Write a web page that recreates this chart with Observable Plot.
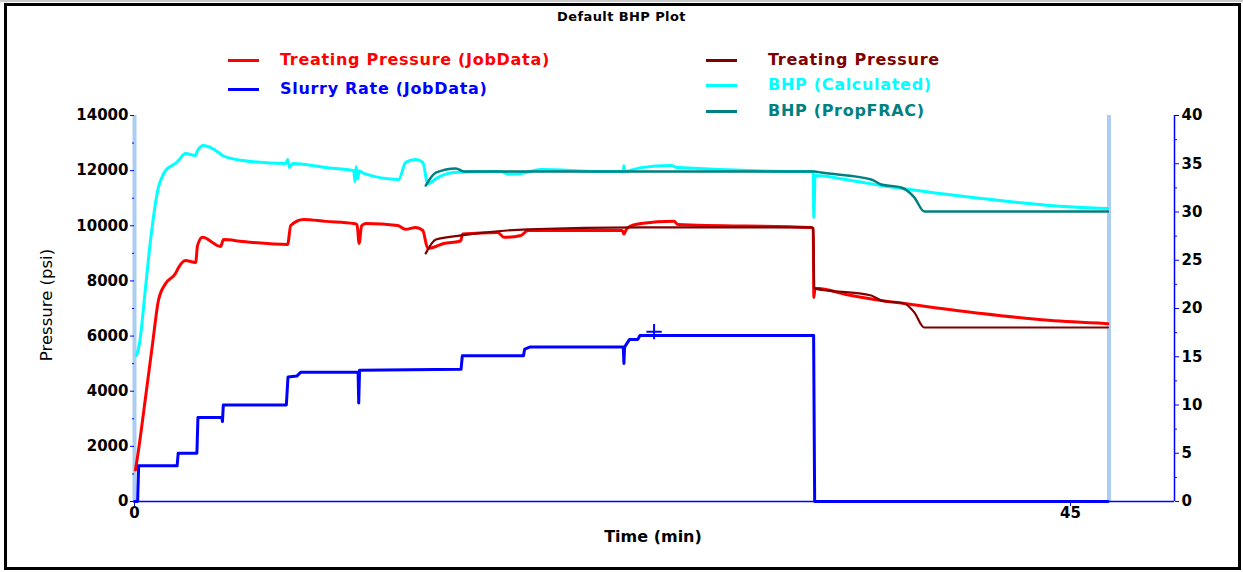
<!DOCTYPE html>
<html><head><meta charset="utf-8">
<script src="https://cdn.jsdelivr.net/npm/d3@7"></script>
<script src="https://cdn.jsdelivr.net/npm/@observablehq/plot@0.6"></script>
<style>
body{margin:0;background:#fff;}
#wrap{position:relative;width:1243px;height:572px;overflow:hidden;background:#fff;font-family:"DejaVu Sans",sans-serif;}
#frame{position:absolute;left:4px;top:3px;width:1237px;height:567px;border:3px solid #000;box-sizing:border-box;pointer-events:none;}
#topline{position:absolute;left:0;top:0;width:1243px;height:2px;background:#c8c8c8;}
#chart{position:absolute;left:0;top:0;}
.t{position:absolute;white-space:nowrap;line-height:20px;}
.sw{position:absolute;height:3px;}
</style></head>
<body>
<div id="wrap">
  <div id="chart"></div>
  <div id="topline"></div>
  <div id="frame"></div>
</div>
<script>
// ---- data (time in min, pressure in psi, rate in bpm) ----
const treatingJobData = [[0.05,1150],[0.19,1850],[0.53,3770],[0.87,5730],[1.15,7290],[1.49,7900],[1.97,8270],[2.12,8490],[2.45,8740],[2.94,8670],[3.03,9280],[3.27,9580],[4.14,9250],[4.28,9500],[5.20,9430],[7.36,9320],[7.51,10010],[8.13,10230],[9.19,10160],[10.54,10080],[10.70,10040],[10.80,9360],[10.92,10000],[11.12,10080],[12.66,10010],[13.04,9870],[13.52,9940],[13.86,9830],[14.10,9180],[14.34,9210],[14.87,9360],[15.59,9430],[15.69,9470],[15.78,9700],[17.47,9760],[17.76,9580],[18.58,9650],[18.91,9830],[20.98,9830],[23.45,9830],[23.53,9700],[23.62,9830],[23.72,9940],[24.35,10080],[25.94,10160],[26.13,10050],[32.53,9940],[32.63,9900],[32.66,7400],[32.72,7730],[34.46,7470],[35.90,7290],[37.01,7180],[40.71,6820],[43.94,6570],[46.8,6450]];
const treatingPressure = [[14.00,9000],[14.49,9500],[15.69,9650],[18.91,9870],[24.35,9940],[32.53,9940],[32.63,9900],[32.68,7730],[35.42,7470],[35.90,7290],[37.01,7180],[37.49,6860],[37.97,6310],[46.8,6310]];
const bhpCalculated = [[0.10,5300],[0.24,5730],[0.53,7760],[0.70,9000],[0.87,10080],[1.03,10920],[1.15,11390],[1.32,11760],[1.49,12000],[1.97,12260],[2.12,12370],[2.45,12620],[2.94,12550],[3.03,12730],[3.32,12910],[4.04,12660],[4.23,12550],[5.20,12370],[7.27,12260],[7.36,12400],[7.45,12110],[7.60,12260],[9.19,12110],[10.54,12000],[10.60,11600],[10.66,12150],[10.73,11700],[10.80,12000],[11.02,11900],[12.70,11680],[13.04,12300],[13.52,12400],[13.86,12300],[14.10,11530],[14.58,11750],[15.35,11930],[17.61,11970],[17.95,11880],[18.58,11900],[19.54,12040],[22.43,11970],[23.50,11970],[23.53,12180],[23.56,11970],[24.35,12110],[25.79,12190],[26.13,12110],[32.53,11970],[32.63,11970],[32.66,10300],[32.72,11820],[34.46,11640],[35.90,11460],[38.31,11210],[40.71,10990],[43.94,10740],[46.8,10630]];
const bhpPropFrac = [[14.00,11460],[14.49,11930],[15.45,12080],[15.83,11970],[32.53,11970],[32.68,11970],[33.01,11930],[35.42,11680],[35.90,11500],[36.86,11390],[37.49,11030],[37.97,10520],[46.8,10520]];
const slurryRate = [[0,0],[0.15,0],[0.2,3.7],[2.05,3.7],[2.1,5.0],[3.0,5.0],[3.05,8.7],[4.2,8.7],[4.23,8.3],[4.27,10.0],[7.3,10.0],[7.38,12.9],[7.8,13.0],[8.0,13.4],[10.75,13.4],[10.78,10.2],[10.82,13.6],[15.7,13.7],[15.76,15.1],[18.7,15.1],[18.76,15.8],[19.0,16.0],[23.5,16.0],[23.53,14.3],[23.56,16.0],[23.8,16.8],[24.2,16.8],[24.3,17.2],[32.65,17.2],[32.7,0],[46.8,0]];
const rateMarker = [[24.98,17.6]];
const cursorTimes = [0, 46.85];
const pressureTicks = [0,2000,4000,6000,8000,10000,12000,14000];
const pressureMinor = [1000,3000,5000,7000,9000,11000,13000];
const rateTicks = [0,5,10,15,20,25,30,35,40];
const rateMinor = [2.5,7.5,12.5,17.5,22.5,27.5,32.5,37.5];
const timeTicks = [0,45];
const legendLabels = ["Treating Pressure (JobData)","Slurry Rate (JobData)","Treating Pressure","BHP (Calculated)","BHP (PropFRAC)"];
const legendColors = ["#ff0000","#0000ff","#800000","#00ffff","#008080"];
const title = "Default BHP Plot";
const xLabel = "Time (min)";
const yLabel = "Pressure (psi)";

const RATE_SCALE = 14000 / 40; // right axis 0-40 maps to 0-14000

const chart = Plot.plot({
  width: 1243, height: 572,
  marginLeft: 134, marginRight: 69, marginTop: 115, marginBottom: 71,
  x: {domain: [0, 50], axis: null, label: null},
  y: {domain: [0, 14000], axis: null, label: null},
  style: {fontFamily: "DejaVu Sans", fontSize: "15px", fontWeight: "bold", color: "#000", background: "transparent", overflow: "visible"},
  marks: [
    Plot.ruleX(cursorTimes, {x: d => d, y1: 0, y2: 14000, stroke: "#abcdf1", strokeWidth: 4}),
    Plot.ruleY([0], {stroke: "#0000ff", strokeWidth: 1.5}),
    Plot.ruleX([50], {stroke: "#0000ff", strokeWidth: 1.5}),
    Plot.axisY({ticks: pressureTicks, anchor: "left", tickSize: 4, tickPadding: 2, tickFormat: d => String(d), stroke: "#0000ff", fill: "#000", label: null, fontWeight: "bold"}),
    Plot.axisY({ticks: pressureMinor, anchor: "left", tickSize: 2, tickFormat: () => "", stroke: "#0000ff", label: null}),
    Plot.axisY({ticks: rateTicks.map(v => v * RATE_SCALE), anchor: "right", tickSize: 4, tickPadding: 3, tickFormat: d => String(Math.round(d / RATE_SCALE)), stroke: "#0000ff", fill: "#000", label: null, fontWeight: "bold"}),
    Plot.axisY({ticks: rateMinor.map(v => v * RATE_SCALE), anchor: "right", tickSize: 2, tickFormat: () => "", stroke: "#0000ff", label: null}),
    Plot.axisX({ticks: timeTicks, anchor: "bottom", tickSize: 5, tickPadding: 1, tickFormat: d => String(d), stroke: "#0000ff", fill: "#000", label: null, fontWeight: "bold"}),
    Plot.line(bhpCalculated, {x: d => d[0], y: d => d[1], stroke: "#00ffff", strokeWidth: 3, curve: "monotone-x"}),
    Plot.line(bhpPropFrac, {x: d => d[0], y: d => d[1], stroke: "#008080", strokeWidth: 2.5, curve: "monotone-x"}),
    Plot.line(treatingJobData, {x: d => d[0], y: d => d[1], stroke: "#ff0000", strokeWidth: 3, curve: "monotone-x"}),
    Plot.line(treatingPressure, {x: d => d[0], y: d => d[1], stroke: "#800000", strokeWidth: 2.2, curve: "monotone-x"}),
    Plot.line(slurryRate, {x: d => d[0], y: d => d[1] * RATE_SCALE, stroke: "#0000ff", strokeWidth: 3}),
    Plot.dot(rateMarker, {x: d => d[0], y: d => d[1] * RATE_SCALE, symbol: "plus", r: 5, stroke: "#0000ff", strokeWidth: 2})
  ]
});
document.getElementById("chart").appendChild(chart);

const wrap = document.getElementById("wrap");
function addText(txt, left, top, css) {
  const d = document.createElement("div");
  d.className = "t";
  d.textContent = txt;
  d.style.left = left + "px";
  d.style.top = top + "px";
  Object.assign(d.style, css || {});
  wrap.appendChild(d);
  return d;
}
// title
addText(title, 0, 7, {width: "1243px", textAlign: "center", fontWeight: "bold", fontSize: "13px", letterSpacing: "0.4px", color: "#000"});
// legend
const legendPos = [[228, 280, 60], [228, 280, 89], [706, 768, 60], [706, 768, 85], [706, 768, 111]];
legendLabels.forEach((lab, i) => {
  const [sx, tx, cy] = legendPos[i];
  const s = document.createElement("div");
  s.className = "sw";
  s.style.left = sx + "px"; s.style.top = (cy - 1.5) + "px"; s.style.width = "31px";
  s.style.background = legendColors[i];
  wrap.appendChild(s);
  addText(lab, tx, cy - 10, {color: legendColors[i], fontWeight: "bold", fontSize: "16px", letterSpacing: "0.7px"});
});
// axis titles
addText(xLabel, 553, 527, {width: "200px", textAlign: "center", fontWeight: "bold", fontSize: "16px", color: "#000"});
addText(yLabel, -53, 295, {width: "200px", textAlign: "center", fontSize: "16.5px", color: "#000", transform: "rotate(-90deg)"});
</script>
</body></html>
